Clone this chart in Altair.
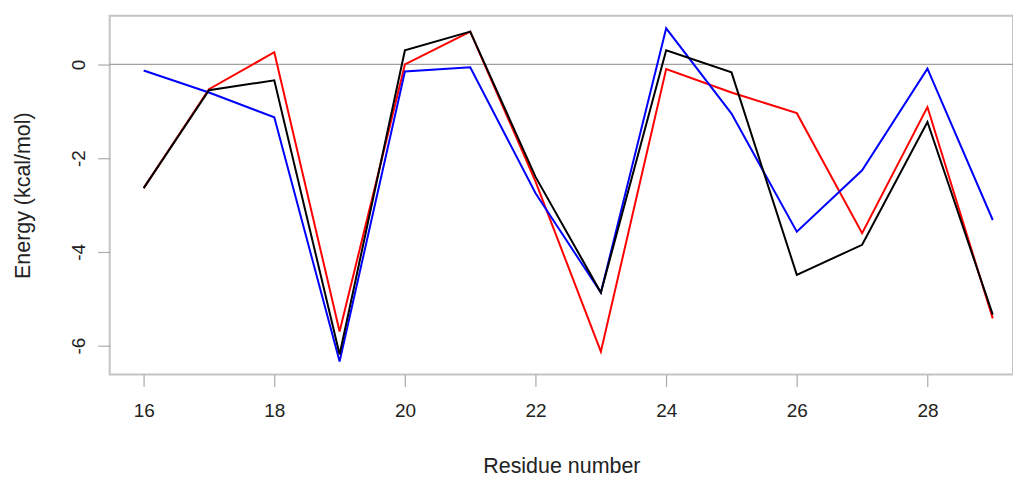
import altair as alt
import pandas as pd

residues = [16, 17, 18, 19, 20, 21, 22, 23, 24, 25, 26, 27, 28, 29]
blue_vals = [-0.13, -0.6, -1.13, -6.34, -0.15, -0.06, -2.75, -4.87, 0.77, -1.05, -3.57, -2.26, -0.09, -3.32]
red_vals = [-2.64, -0.53, 0.26, -5.7, 0.0, 0.7, -2.5, -6.13, -0.1, -0.6, -1.04, -3.6, -0.91, -5.42]
black_vals = [-2.64, -0.55, -0.34, -6.19, 0.3, 0.7, -2.4, -4.87, 0.3, -0.17, -4.49, -3.85, -1.23, -5.34]

series = [("red", red_vals, "#ff0000"), ("blue", blue_vals, "#0000ff"), ("black", black_vals, "#000000")]
x_ticks = [16, 18, 20, 22, 24, 26, 28]
y_ticks = [-6, -4, -2, 0]

FONT = "Liberation Sans"

xscale = alt.Scale(domain=[15.48, 29.31], nice=False, zero=False)
yscale = alt.Scale(domain=[-6.62, 1.04], nice=False, zero=False)

xaxis = alt.Axis(values=x_ticks, title="Residue number", grid=False, domain=False,
                 tickSize=12, tickColor="#aaaaaa", tickWidth=1.2,
                 labelFontSize=19, labelFont=FONT, labelColor="#222222", labelPadding=15,
                 titleFontSize=21.5, titleFont=FONT, titleFontWeight="normal", titleColor="#222222",
                 titlePadding=35)
yaxis = alt.Axis(values=y_ticks, title="Energy (kcal/mol)", grid=False, domain=False,
                 tickSize=12, tickColor="#aaaaaa", tickWidth=1.2,
                 labelExpr="datum.value + ''",
                 labelFontSize=19, labelFont=FONT, labelColor="#222222", labelAngle=-90,
                 labelAlign="center", labelBaseline="bottom", labelPadding=9,
                 titleFontSize=21.5, titleFont=FONT, titleFontWeight="normal", titleColor="#222222",
                 titlePadding=35)

zero_df = pd.DataFrame({"y": [0]})
zero = alt.Chart(zero_df).mark_rule(color="#a0a0a0", strokeWidth=1.2).encode(
    y=alt.Y("y:Q", scale=yscale, axis=yaxis))

layers = [zero]
for name, vals, col in series:
    df = pd.DataFrame({"x": residues, "y": vals})
    layers.append(alt.Chart(df).mark_line(color=col, strokeWidth=2).encode(
        x=alt.X("x:Q", scale=xscale, axis=xaxis),
        y=alt.Y("y:Q", scale=yscale, axis=yaxis)))

chart = alt.layer(*layers).properties(
    width=906, height=360,
    autosize=alt.AutoSizeParams(type="none"),
    padding={"left": 102, "top": 7, "right": 0, "bottom": 108},
).configure_view(stroke="#c4c4c4", strokeWidth=2)

chart.save("out.html", embed_options={"renderer": "svg", "actions": False})
